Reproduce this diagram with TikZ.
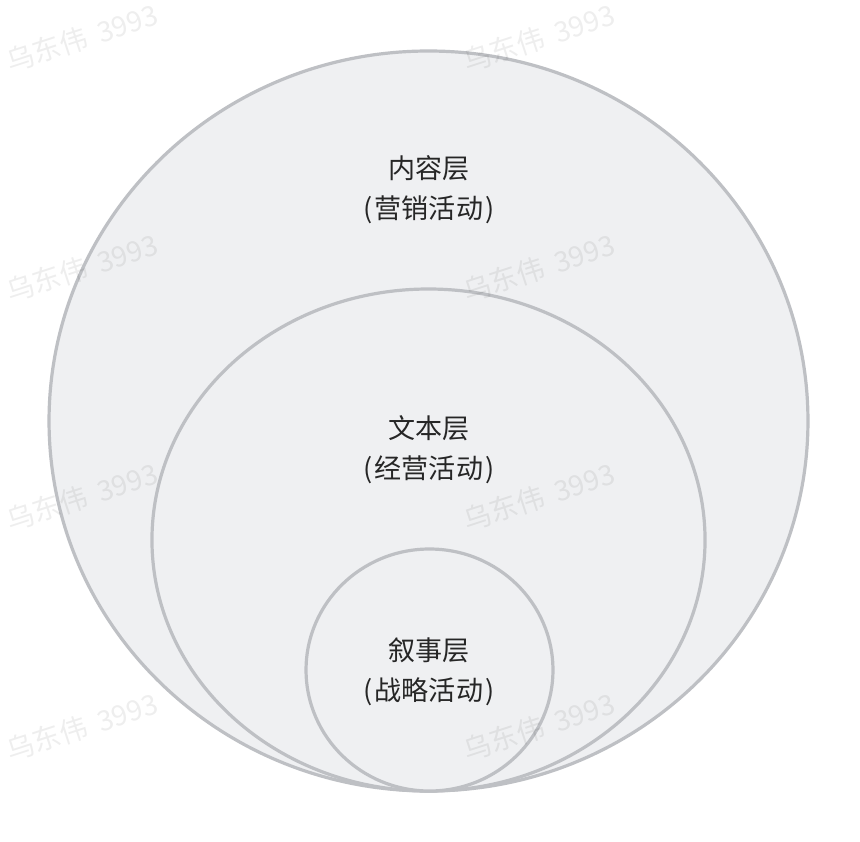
\documentclass[tikz,border=0pt]{standalone}
\usepackage{fontspec}
\setmainfont{Noto Sans CJK SC}
\newfontfamily\wmfont{Noto Sans CJK SC}
\definecolor{layerfill}{HTML}{EFF0F2}
\definecolor{layerline}{HTML}{BEC0C4}
\definecolor{labeltext}{HTML}{262626}
\newcommand\lp{(\hspace{1.5pt}}
\newcommand\rp{\hspace{1.5pt})}
\begin{document}
\begin{tikzpicture}[x=0.75pt,y=-0.75pt,
  layer/.style={draw=layerline,fill=layerfill,line width=2.4pt},
  lbl/.style={align=center,text=labeltext,font=\fontsize{20.3pt}{30pt}\selectfont,inner sep=0pt},
  wmark/.style={text=black,text opacity=0.065,font=\wmfont\fontsize{21pt}{24pt}\selectfont,rotate=18,inner sep=0pt}]
\useasboundingbox[fill=white] (0,0) rectangle (860,842);
\draw[layer] (428.5,421) ellipse [x radius=284.6pt, y radius=277.5pt];
\draw[layer] (428.5,540) ellipse [x radius=207.4pt, y radius=188.25pt];
\draw[layer] (429.5,670) ellipse [x radius=92.6pt, y radius=90.75pt];
\node[lbl] (content) at (429,190) {内容层\\\lp 营销活动\rp};
\node[lbl] (text) at (429,450) {文本层\\\lp 经营活动\rp};
\node[lbl] (story) at (429,672) {叙事层\\\lp 战略活动\rp};
\foreach \yy [count=\i] in {38,268,497,727} {
  \node[wmark] (wmA\i) at (82,\yy) {乌东伟\hspace{4pt} 3993};
  \node[wmark] (wmB\i) at (539,\yy) {乌东伟\hspace{4pt} 3993};
}
\end{tikzpicture}
\end{document}
